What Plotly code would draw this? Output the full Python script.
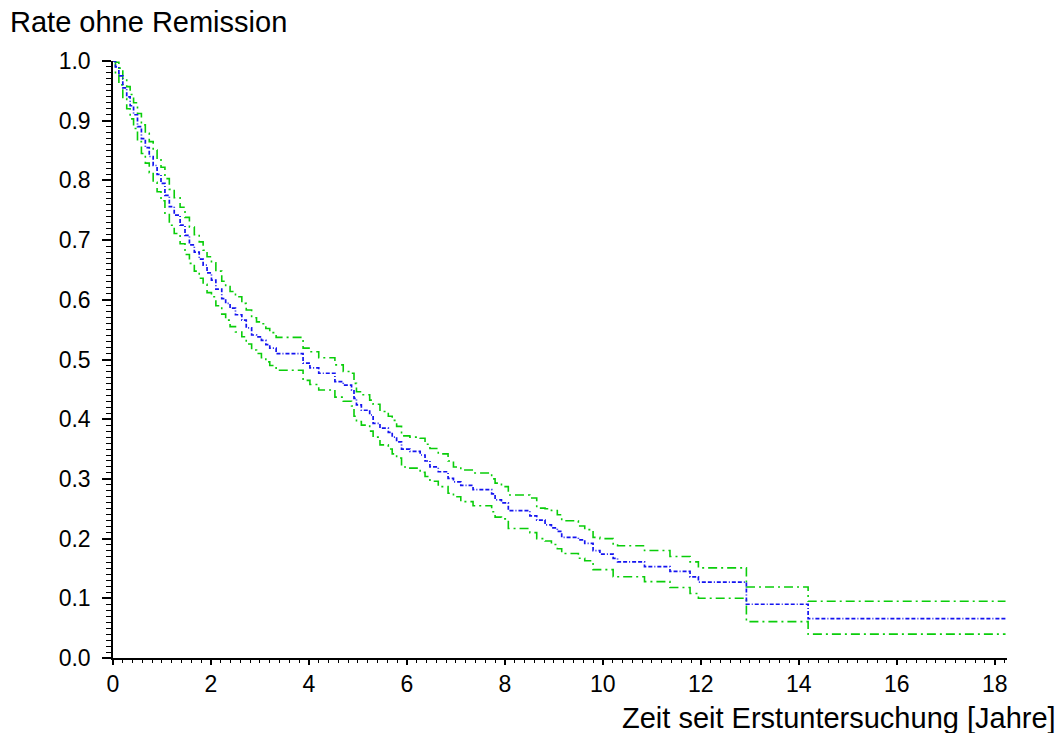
import plotly.graph_objects as go

# Step times (years) and Kaplan-Meier estimates with confidence limits
times = [0.00, 0.05, 0.12, 0.20, 0.28, 0.35, 0.42, 0.50, 0.58, 0.66, 0.74, 0.82, 0.90, 0.98,
         1.06, 1.15, 1.25, 1.37, 1.47, 1.56, 1.66, 1.76, 1.84, 1.92, 2.01, 2.10, 2.22, 2.30,
         2.39, 2.50, 2.63, 2.72, 2.83, 2.93, 3.03, 3.12, 3.20, 3.33, 3.88, 4.02, 4.20, 4.53,
         4.70, 4.87, 4.92, 4.97, 5.07, 5.24, 5.31, 5.45, 5.62, 5.70, 5.79, 5.89, 6.06, 6.27,
         6.37, 6.47, 6.64, 6.84, 6.95, 7.10, 7.35, 7.73, 7.80, 7.93, 8.07, 8.51, 8.65, 8.82,
         8.95, 9.07, 9.16, 9.50, 9.63, 9.80, 9.94, 10.21, 10.30, 10.85, 11.37, 11.78, 11.95,
         12.93, 14.19]
estimate = [1.000, 0.990, 0.975, 0.955, 0.940, 0.925, 0.910, 0.890, 0.870, 0.855, 0.840, 0.825, 0.810, 0.795,
            0.775, 0.756, 0.742, 0.725, 0.708, 0.692, 0.680, 0.668, 0.658, 0.645, 0.633, 0.618, 0.602, 0.594,
            0.586, 0.575, 0.566, 0.553, 0.541, 0.538, 0.532, 0.525, 0.519, 0.510, 0.494, 0.486, 0.477, 0.463,
            0.457, 0.449, 0.435, 0.424, 0.415, 0.407, 0.393, 0.385, 0.378, 0.370, 0.362, 0.350, 0.346, 0.340,
            0.330, 0.320, 0.312, 0.301, 0.295, 0.289, 0.282, 0.275, 0.265, 0.260, 0.247, 0.238, 0.231, 0.223,
            0.218, 0.212, 0.202, 0.198, 0.192, 0.180, 0.174, 0.167, 0.161, 0.153, 0.145, 0.136, 0.127,
            0.090, 0.066]
lower = [1.000, 0.978, 0.960, 0.937, 0.920, 0.903, 0.887, 0.865, 0.845, 0.829, 0.813, 0.797, 0.781, 0.766,
         0.745, 0.725, 0.711, 0.694, 0.676, 0.661, 0.648, 0.636, 0.626, 0.612, 0.605, 0.590, 0.576, 0.566,
         0.555, 0.546, 0.538, 0.526, 0.516, 0.510, 0.503, 0.496, 0.490, 0.482, 0.465, 0.458, 0.449, 0.437,
         0.430, 0.422, 0.405, 0.396, 0.390, 0.380, 0.370, 0.357, 0.350, 0.342, 0.335, 0.320, 0.318, 0.311,
         0.304, 0.296, 0.287, 0.276, 0.270, 0.262, 0.255, 0.245, 0.236, 0.233, 0.217, 0.210, 0.200, 0.196,
         0.190, 0.183, 0.175, 0.167, 0.163, 0.148, 0.148, 0.136, 0.136, 0.128, 0.118, 0.108, 0.100,
         0.061, 0.040]
upper = [1.000, 0.998, 0.988, 0.970, 0.957, 0.944, 0.930, 0.912, 0.893, 0.879, 0.865, 0.851, 0.836, 0.822,
         0.803, 0.785, 0.771, 0.755, 0.738, 0.722, 0.709, 0.697, 0.683, 0.672, 0.662, 0.648, 0.631, 0.622,
         0.614, 0.605, 0.594, 0.583, 0.570, 0.563, 0.560, 0.552, 0.545, 0.537, 0.519, 0.513, 0.503, 0.491,
         0.480, 0.477, 0.460, 0.446, 0.441, 0.432, 0.425, 0.413, 0.405, 0.398, 0.388, 0.372, 0.370, 0.368,
         0.358, 0.351, 0.342, 0.330, 0.320, 0.315, 0.310, 0.300, 0.293, 0.287, 0.273, 0.268, 0.251, 0.250,
         0.247, 0.240, 0.230, 0.221, 0.215, 0.202, 0.200, 0.189, 0.188, 0.180, 0.170, 0.161, 0.151,
         0.119, 0.095]
end_time = 18.22

x_ticks = [0, 2, 4, 6, 8, 10, 12, 14, 16, 18]
y_ticks = [0.0, 0.1, 0.2, 0.3, 0.4, 0.5, 0.6, 0.7, 0.8, 0.9, 1.0]

xs = times + [end_time]
GREEN = "rgb(10,205,10)"
BLUE = "rgb(20,20,240)"
green_dash = "9px,4px,2px,4px"
blue_dash = "4px,2px,4px,2px,1px,2px"

fig = go.Figure()
fig.add_trace(go.Scatter(x=xs, y=lower + [lower[-1]], mode="lines", line_shape="hv",
                         line=dict(color=GREEN, width=1.6, dash=green_dash), showlegend=False))
fig.add_trace(go.Scatter(x=xs, y=upper + [upper[-1]], mode="lines", line_shape="hv",
                         line=dict(color=GREEN, width=1.6, dash=green_dash), showlegend=False))
fig.add_trace(go.Scatter(x=xs, y=estimate + [estimate[-1]], mode="lines", line_shape="hv",
                         line=dict(color=BLUE, width=1.7, dash=blue_dash), showlegend=False))

font_family = "Liberation Sans, Arial, sans-serif"
fig.update_layout(
    width=1061, height=733,
    margin=dict(l=113, r=54, t=61, b=75),
    paper_bgcolor="white", plot_bgcolor="white",
    font=dict(family=font_family, size=23, color="black"),
    xaxis=dict(range=[0, 18.25], tickvals=x_ticks, ticktext=[str(v) for v in x_ticks],
               showgrid=False, zeroline=False, showline=True, linecolor="black", linewidth=1.5,
               ticks="outside", ticklen=5, tickwidth=1.5, tickcolor="black",
               minor=dict(dtick=0.2, ticks="outside", ticklen=3, tickwidth=1, tickcolor="black", showgrid=False),
               tickfont=dict(size=23)),
    yaxis=dict(range=[0, 1.0], tickvals=y_ticks, ticktext=["%.1f" % v for v in y_ticks],
               showgrid=False, zeroline=False, showline=True, linecolor="black", linewidth=1.5,
               ticks="outside", ticklen=9, tickwidth=1.5, tickcolor="black", ticklabelstandoff=7,
               minor=dict(dtick=0.01, ticks="outside", ticklen=5, tickwidth=1, tickcolor="black", showgrid=False),
               tickfont=dict(size=23)),
    annotations=[
        dict(text="Rate ohne Remission", xref="paper", yref="paper",
             x=(8 - 113) / 894, y=(658 - 22) / 597, xanchor="left", yanchor="middle",
             showarrow=False, font=dict(size=29, family=font_family)),
        dict(text="Zeit seit Erstuntersuchung [Jahre]", xref="paper", yref="paper",
             x=(1058 - 113) / 894, y=(658 - 718) / 597, xanchor="right", yanchor="middle",
             showarrow=False, font=dict(size=29, family=font_family)),
    ],
)

fig.write_html("out.html")
